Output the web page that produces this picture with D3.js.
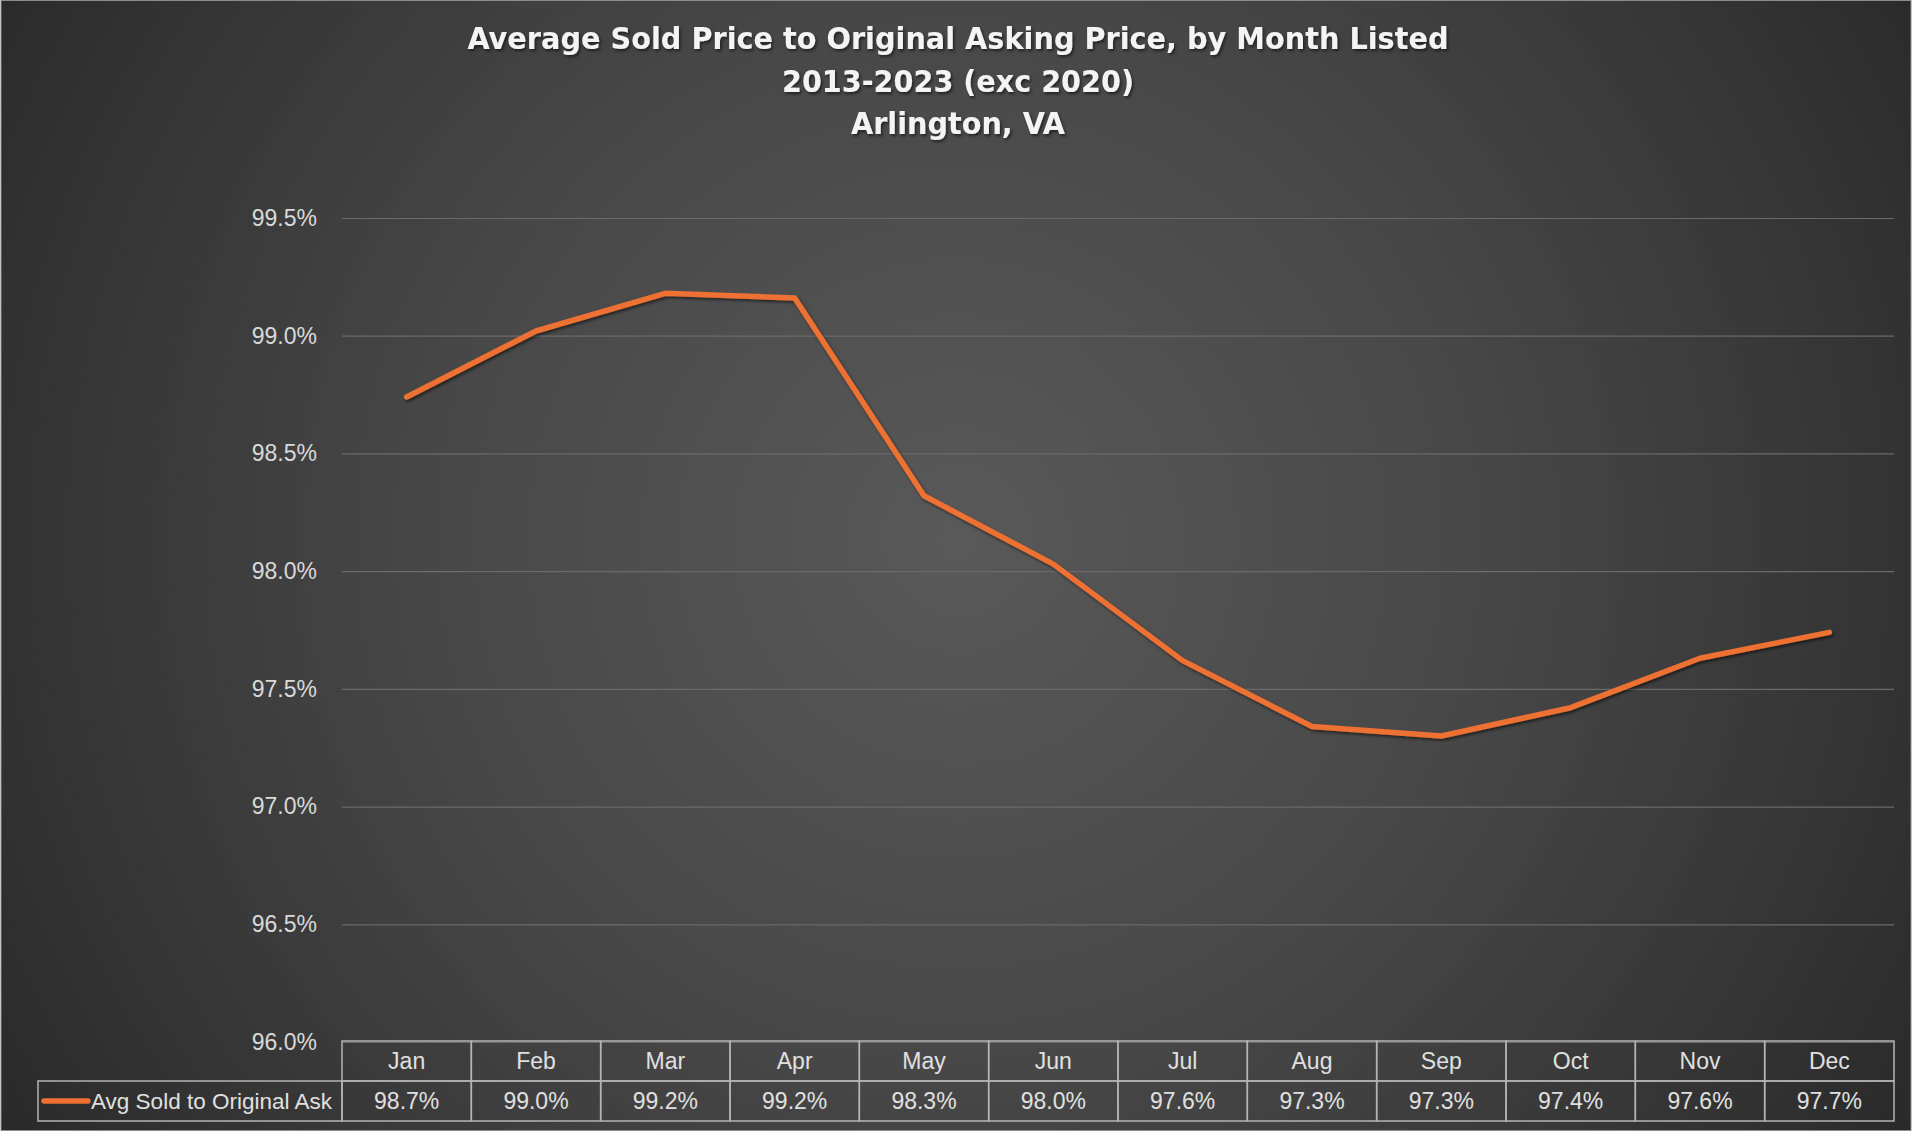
<!DOCTYPE html>
<html>
<head>
<meta charset="utf-8">
<script src="https://cdn.jsdelivr.net/npm/d3@7"></script>
<style>
  html, body { margin: 0; padding: 0; background: #ffffff; overflow: hidden; }
  svg { display: block; }
</style>
</head>
<body>
<div id="chart"></div>
<script>
const [width, height] = [1920, 1134];

// data
const months = ["Jan", "Feb", "Mar", "Apr", "May", "Jun", "Jul", "Aug", "Sep", "Oct", "Nov", "Dec"];
const avgSoldToAsk = [0.9874, 0.9902, 0.9918, 0.9916, 0.9832, 0.9803, 0.9762, 0.9734, 0.9730, 0.9742, 0.9763, 0.9774];
const yTicks = [0.960, 0.965, 0.970, 0.975, 0.980, 0.985, 0.990, 0.995];
const seriesName = "Avg Sold to Original Ask";
const titleLines = [
    "Average Sold Price to Original Asking Price, by Month Listed",
    "2013-2023 (exc 2020)",
    "Arlington, VA"
];

const plot = {left: 342, right: 1894, top: 218, bottom: 1042};
const table = {top: 1041, mid: 1081, bottom: 1121, legendLeft: 38};
const orange = "#ed7131";

const svg = d3.select("#chart")
    .append("svg")
    .attr("width", width)
    .attr("height", height);

const defs = svg.append("defs");

const bg = defs.append("radialGradient")
    .attr("id", "bg")
    .attr("gradientUnits", "userSpaceOnUse")
    .attr("cx", 958).attr("cy", 540).attr("r", 1115);
bg.append("stop").attr("offset", "0%").attr("stop-color", "#595959");
bg.append("stop").attr("offset", "48%").attr("stop-color", "#474747");
bg.append("stop").attr("offset", "86%").attr("stop-color", "#323232");
bg.append("stop").attr("offset", "100%").attr("stop-color", "#2a2a2a");

const shadow = defs.append("filter").attr("id", "shadow")
    .attr("x", "-5%").attr("y", "-20%").attr("width", "110%").attr("height", "140%");
shadow.append("feDropShadow")
    .attr("dx", 1.5).attr("dy", 2).attr("stdDeviation", 1.5)
    .attr("flood-color", "#000").attr("flood-opacity", 0.55);

// chart area
svg.append("rect")
    .attr("x", 1).attr("y", 0.5)
    .attr("width", 1910).attr("height", 1130)
    .attr("fill", "url(#bg)")
    .attr("stroke", "#8c8c8c")
    .attr("stroke-width", 1);

//title
svg.append("g")
    .attr("filter", "url(#shadow)")
    .selectAll("text")
    .data(titleLines)
    .enter()
    .append("text")
    .attr("x", 958)
    .attr("y", (d, i) => 49 + i * 42.5)
    .attr("text-anchor", "middle")
    .attr("textLength", (d, i) => [981, 352, 214][i])
    .attr("lengthAdjust", "spacingAndGlyphs")
    .style("font-family", "'DejaVu Sans Condensed', 'DejaVu Sans', sans-serif")
    .style("font-weight", "bold")
    .style("font-size", "31px")
    .style("fill", "#f4f4f4")
    .text(d => d);

//set up our scales
const x = d3.scaleBand()
    .domain(months)
    .range([plot.left, plot.right])
    .paddingInner(0)
    .paddingOuter(0);

const y = d3.scaleLinear()
    .domain([0.96, 0.995])
    .range([plot.bottom, plot.top]);

const fmt = d3.format(".1%");

// y axis with gridlines
const yAxis = svg.append("g")
    .attr("transform", `translate(${plot.left}, 0)`)
    .call(d3.axisLeft(y)
        .tickValues(yTicks)
        .tickFormat(fmt)
        .tickSize(-(plot.right - plot.left))
        .tickPadding(25));

yAxis.select(".domain").remove();
yAxis.selectAll(".tick line")
    .attr("stroke", "#6a6a6a")
    .attr("stroke-width", 1.2);
yAxis.selectAll(".tick text")
    .style("font-family", "'Liberation Sans', Arial, sans-serif")
    .style("font-size", "23px")
    .style("fill", "#d9d9d9");

// the line
const line = d3.line()
    .x((d, i) => x(months[i]) + x.bandwidth() / 2)
    .y(d => y(d));

svg.append("path")
    .datum(avgSoldToAsk)
    .attr("d", line)
    .attr("fill", "none")
    .attr("stroke", orange)
    .attr("stroke-width", 5.5)
    .attr("stroke-linejoin", "round")
    .attr("stroke-linecap", "round")
    .attr("filter", "url(#shadow)");

// data table
const tbl = svg.append("g");
const border = "#b4b4b4";

tbl.selectAll(".hcell")
    .data(months)
    .enter()
    .append("rect")
    .attr("class", "hcell")
    .attr("x", d => x(d))
    .attr("y", table.top)
    .attr("width", x.bandwidth())
    .attr("height", table.mid - table.top)
    .attr("fill", "none")
    .attr("stroke", border)
    .attr("stroke-width", 1.5);

tbl.selectAll(".vcell")
    .data(months)
    .enter()
    .append("rect")
    .attr("class", "vcell")
    .attr("x", d => x(d))
    .attr("y", table.mid)
    .attr("width", x.bandwidth())
    .attr("height", table.bottom - table.mid)
    .attr("fill", "none")
    .attr("stroke", border)
    .attr("stroke-width", 1.5);

tbl.append("rect")
    .attr("x", table.legendLeft)
    .attr("y", table.mid)
    .attr("width", plot.left - table.legendLeft)
    .attr("height", table.bottom - table.mid)
    .attr("fill", "none")
    .attr("stroke", border)
    .attr("stroke-width", 1.5);

const cellText = sel => sel
    .attr("text-anchor", "middle")
    .style("font-family", "'Liberation Sans', Arial, sans-serif")
    .style("font-size", "23px")
    .style("fill", "#e0e0e0");

tbl.selectAll(".mlabel")
    .data(months)
    .enter()
    .append("text")
    .attr("class", "mlabel")
    .attr("x", d => x(d) + x.bandwidth() / 2)
    .attr("y", 1069)
    .call(cellText)
    .text(d => d);

tbl.selectAll(".vlabel")
    .data(avgSoldToAsk)
    .enter()
    .append("text")
    .attr("class", "vlabel")
    .attr("x", (d, i) => x(months[i]) + x.bandwidth() / 2)
    .attr("y", 1109)
    .call(cellText)
    .text(d => fmt(d));

// legend key inside the table
tbl.append("line")
    .attr("x1", 44).attr("x2", 88)
    .attr("y1", 1101).attr("y2", 1101)
    .attr("stroke", orange)
    .attr("stroke-width", 5.5)
    .attr("stroke-linecap", "round");

tbl.append("text")
    .attr("x", 91)
    .attr("y", 1109)
    .style("font-family", "'Liberation Sans', Arial, sans-serif")
    .style("font-size", "22.5px")
    .style("fill", "#e0e0e0")
    .text(seriesName);
</script>
</body>
</html>
